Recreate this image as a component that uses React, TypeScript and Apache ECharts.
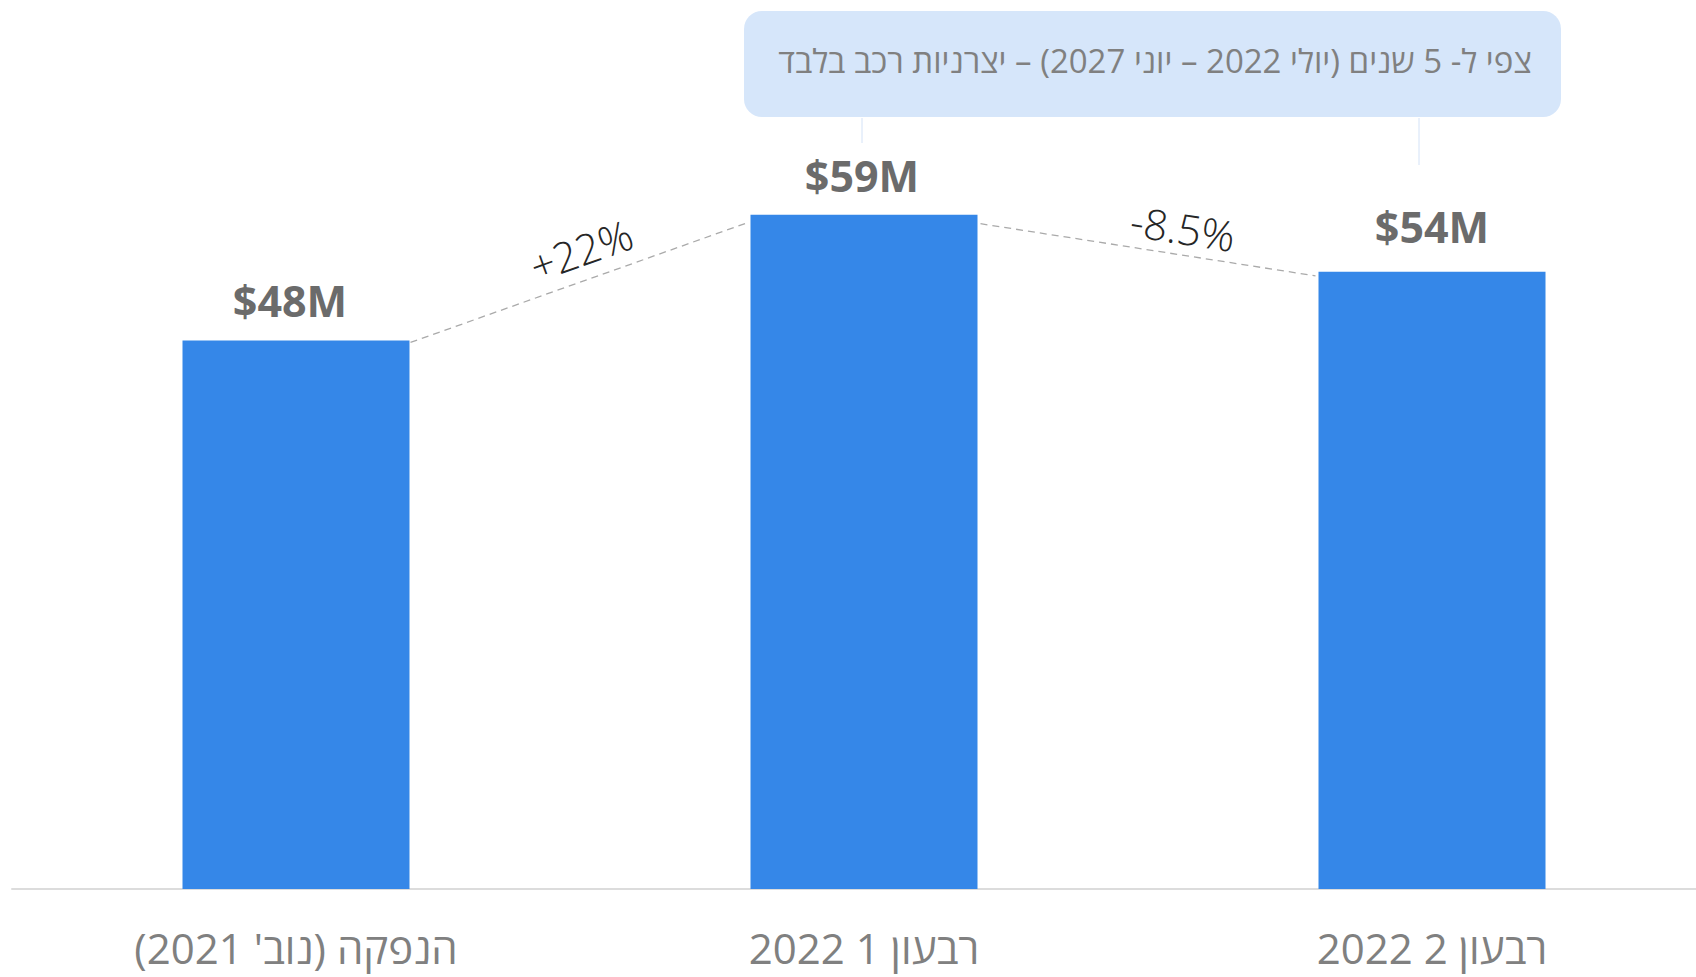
import React, { useEffect, useRef } from "react";
import * as echarts from "echarts";

const categories = ["הנפקה (נוב' 2021)", "רבעון 1 2022", "רבעון 2 2022"];
const revenue = [48, 59, 54];
const valueLabels = ["$48M", "$59M", "$54M"];
const changeLabels = ["+22%", "-8.5%"];
const noteText = "צפי ל- 5 שנים (יולי 2022 – יוני 2027) – יצרניות רכב בלבד";
const yMin = 0;
const yMax = 70;

const FONT = "'Open Sans', 'Liberation Sans', sans-serif";
const BAR_W = 227;
const LABEL_SHIFT = [
  [-6, 0],
  [-2, 0],
  [0, -6],
];

function fixRtl(root: HTMLElement) {
  root.querySelectorAll("text").forEach((t) => {
    if (/[\u0590-\u05FF]/.test(t.textContent || "")) {
      t.setAttribute("direction", "rtl");
      (t as any).style.direction = "rtl";
      (t as any).style.unicodeBidi = "embed";
    }
  });
}

export default function App() {
  const ref = useRef<HTMLDivElement>(null);
  useEffect(() => {
    const el = ref.current!;
    const chart = echarts.init(el, null, { renderer: "svg" });
    chart.setOption({
      animation: false,
      grid: { left: 12, top: 89, right: 0, bottom: 88 },
      xAxis: {
        type: "category",
        data: categories,
        axisLine: { lineStyle: { color: "#dcdcdc", width: 2 } },
        axisTick: { show: false },
        axisLabel: { color: "#808080", fontSize: 42, fontFamily: FONT, margin: 37 },
      },
      yAxis: { type: "value", min: yMin, max: yMax, show: false, splitLine: { show: false } },
      series: [
        {
          type: "bar",
          data: revenue.map((v, i) => ({ value: v, label: { offset: LABEL_SHIFT[i] } })),
          barWidth: BAR_W,
          itemStyle: { color: "#3587e8" },
          label: {
            show: true,
            position: "top",
            distance: 18,
            formatter: (p: any) => valueLabels[p.dataIndex],
            color: "#6b6b6b",
            fontSize: 43,
            fontWeight: "bold",
            fontFamily: FONT,
          },
        },
      ],
    });

    const pts = revenue.map((v, i) => chart.convertToPixel({ gridIndex: 0 }, [i, v]) as number[]);
    const half = BAR_W / 2;
    const yOff = [
      [2, 8],
      [9, 4],
    ];
    const xGap = [
      [1, 3],
      [3, 3],
    ];
    const labelOff = [
      [2, -33],
      [35, -22],
    ];
    const graphics: any[] = [];
    for (let i = 0; i < changeLabels.length; i++) {
      const x1 = pts[i][0] + half + xGap[i][0];
      const y1 = pts[i][1] + yOff[i][0];
      const x2 = pts[i + 1][0] - half - xGap[i][1];
      const y2 = pts[i + 1][1] + yOff[i][1];
      graphics.push({
        type: "line",
        shape: { x1, y1, x2, y2 },
        style: { stroke: "#aaaaaa", lineWidth: 1.3, lineDash: [7, 5] },
      });
      const ang = Math.atan2(-(y2 - y1), x2 - x1);
      graphics.push({
        type: "text",
        x: (x1 + x2) / 2 + labelOff[i][0],
        y: (y1 + y2) / 2 + labelOff[i][1],
        rotation: ang,
        style: {
          text: changeLabels[i],
          fill: "#262626",
          fontSize: 42,
          fontWeight: 300,
          fontFamily: FONT,
          align: "center",
          verticalAlign: "middle",
          textAlign: "center",
          textVerticalAlign: "middle",
        },
      });
    }
    graphics.push({
      type: "rect",
      shape: { x: 744, y: 11, width: 817, height: 106, r: 18 },
      style: { fill: "#d6e6fa" },
    });
    graphics.push({
      type: "text",
      x: 1155,
      y: 60,
      style: {
        text: noteText,
        fill: "#808080",
        fontSize: 33,
        fontFamily: FONT,
        align: "center",
        verticalAlign: "middle",
        textAlign: "center",
        textVerticalAlign: "middle",
      },
    });
    graphics.push({
      type: "line",
      shape: { x1: 862, y1: 118, x2: 862, y2: 143 },
      style: { stroke: "#d3e2f7", lineWidth: 1 },
    });
    graphics.push({
      type: "line",
      shape: { x1: 1419, y1: 118, x2: 1419, y2: 165 },
      style: { stroke: "#d3e2f7", lineWidth: 1 },
    });
    chart.setOption({ graphic: graphics });
    fixRtl(el);
    chart.on("finished", () => fixRtl(el));
    const t = setTimeout(() => fixRtl(el), 50);
    return () => {
      clearTimeout(t);
      chart.dispose();
    };
  }, []);
  return (
    <div style={{ position: "absolute", left: 0, top: 0, width: 1696, height: 977, overflow: "hidden" }}>
      <div ref={ref} style={{ position: "absolute", left: 0, top: 0, width: 1716, height: 977 }} />
    </div>
  );
}
